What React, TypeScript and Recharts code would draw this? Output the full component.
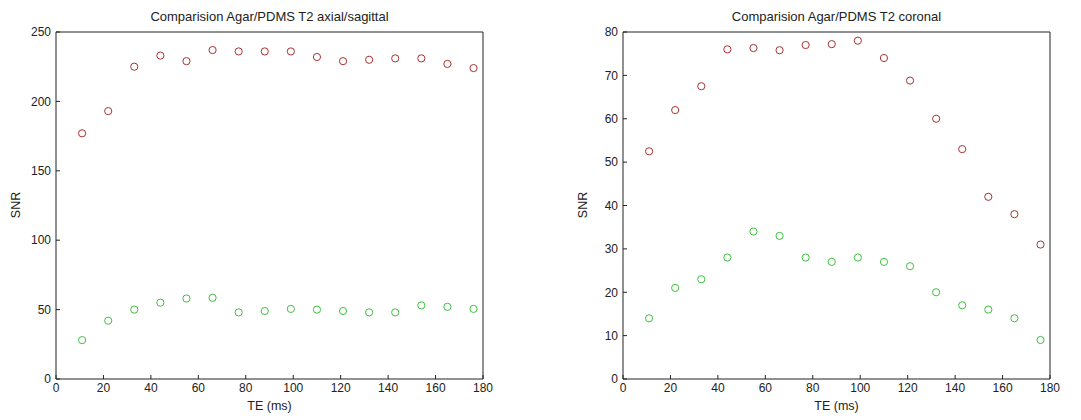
import React from 'react';
import { ScatterChart, Scatter, XAxis, YAxis } from 'recharts';

const te = [11, 22, 33, 44, 55, 66, 77, 88, 99, 110, 121, 132, 143, 154, 165, 176];

const axialAgar = [177, 193, 225, 233, 229, 237, 236, 236, 236, 232, 229, 230, 231, 231, 227, 224];
const axialPdms = [28, 42, 50, 55, 58, 58.5, 48, 49, 50.5, 50, 49, 48, 48, 53, 52, 50.5];

const coronalAgar = [52.5, 62, 67.5, 76, 76.3, 75.8, 77, 77.2, 78, 74, 68.8, 60, 53, 42, 38, 31];
const coronalPdms = [14, 21, 23, 28, 34, 33, 28, 27, 28, 27, 26, 20, 17, 16, 14, 9];

const xTicks = [0, 20, 40, 60, 80, 100, 120, 140, 160, 180];
const axialTicks = [0, 50, 100, 150, 200, 250];
const coronalTicks = [0, 10, 20, 30, 40, 50, 60, 70, 80];

const RED = '#a83232';
const GREEN = '#3fbf3f';
const AXIS = '#222';
const FONT = '"Liberation Sans", Arial, sans-serif';

const toPoints = (ys: number[]) => te.map((x, i) => ({ x, y: ys[i] }));

const Ring = (color: string) => (props: any) => {
  const { cx, cy } = props;
  if (cx == null || cy == null) return <g />;
  return <circle cx={cx} cy={cy} r={3.6} fill="none" stroke={color} strokeWidth={1} />;
};

const tickStyle = { fontSize: 12, fill: '#222', fontFamily: FONT };

interface PanelProps {
  title: string;
  agar: number[];
  pdms: number[];
  yTicks: number[];
  plotLeft: number;
}

const W = 540;
const H = 420;
const PW = 427;

const Panel: React.FC<PanelProps> = ({ title, agar, pdms, yTicks, plotLeft }) => {
  const plotRight = plotLeft + PW;
  const yMax = yTicks[yTicks.length - 1];
  return (
    <div style={{ position: 'relative', width: W, height: H }}>
      <ScatterChart
        width={W}
        height={H}
        margin={{ top: 31, right: W - plotRight - 1, bottom: 0, left: 0 }}
      >
        <XAxis
          xAxisId="b"
          type="number"
          dataKey="x"
          domain={[0, 180]}
          ticks={xTicks}
          height={41}
          tickSize={-4}
          tickMargin={8}
          stroke={AXIS}
          tick={tickStyle}
          interval={0}
        />
        <XAxis
          xAxisId="t"
          orientation="top"
          type="number"
          dataKey="x"
          domain={[0, 180]}
          ticks={xTicks}
          height={1}
          tickSize={-4}
          tick={false}
          stroke={AXIS}
        />
        <YAxis
          yAxisId="l"
          type="number"
          dataKey="y"
          domain={[0, yMax]}
          ticks={yTicks}
          width={plotLeft}
          tickSize={-4}
          tickMargin={9}
          stroke={AXIS}
          tick={tickStyle}
          interval={0}
        />
        <YAxis
          yAxisId="r"
          orientation="right"
          type="number"
          dataKey="y"
          domain={[0, yMax]}
          ticks={yTicks}
          width={1}
          tickSize={-4}
          tick={false}
          stroke={AXIS}
        />
        <Scatter
          xAxisId="b"
          yAxisId="l"
          data={toPoints(agar)}
          shape={Ring(RED)}
          isAnimationActive={false}
        />
        <Scatter
          xAxisId="b"
          yAxisId="l"
          data={toPoints(pdms)}
          shape={Ring(GREEN)}
          isAnimationActive={false}
        />
      </ScatterChart>
      <div
        style={{
          position: 'absolute',
          left: plotLeft,
          width: PW,
          top: 9,
          textAlign: 'center',
          fontSize: 13,
          fontFamily: FONT,
          color: '#222',
          whiteSpace: 'nowrap',
        }}
      >
        {title}
      </div>
      <div
        style={{
          position: 'absolute',
          left: plotLeft,
          width: PW,
          top: 399,
          textAlign: 'center',
          fontSize: 12.5,
          fontFamily: FONT,
          color: '#222',
        }}
      >
        TE (ms)
      </div>
      <div
        style={{
          position: 'absolute',
          left: plotLeft - 60,
          top: 198,
          width: 40,
          textAlign: 'center',
          fontSize: 12.5,
          fontFamily: FONT,
          color: '#222',
          transform: 'rotate(-90deg)',
        }}
      >
        SNR
      </div>
    </div>
  );
};

export default function App() {
  return (
    <div
      style={{
        position: 'absolute',
        left: 0,
        top: 0,
        width: 1081,
        height: 420,
        background: '#fff',
        display: 'flex',
      }}
    >
      <Panel
        title="Comparision Agar/PDMS T2 axial/sagittal"
        agar={axialAgar}
        pdms={axialPdms}
        yTicks={axialTicks}
        plotLeft={56}
      />
      <div style={{ width: 1 }} />
      <Panel
        title="Comparision Agar/PDMS T2 coronal"
        agar={coronalAgar}
        pdms={coronalPdms}
        yTicks={coronalTicks}
        plotLeft={82}
      />
    </div>
  );
}
